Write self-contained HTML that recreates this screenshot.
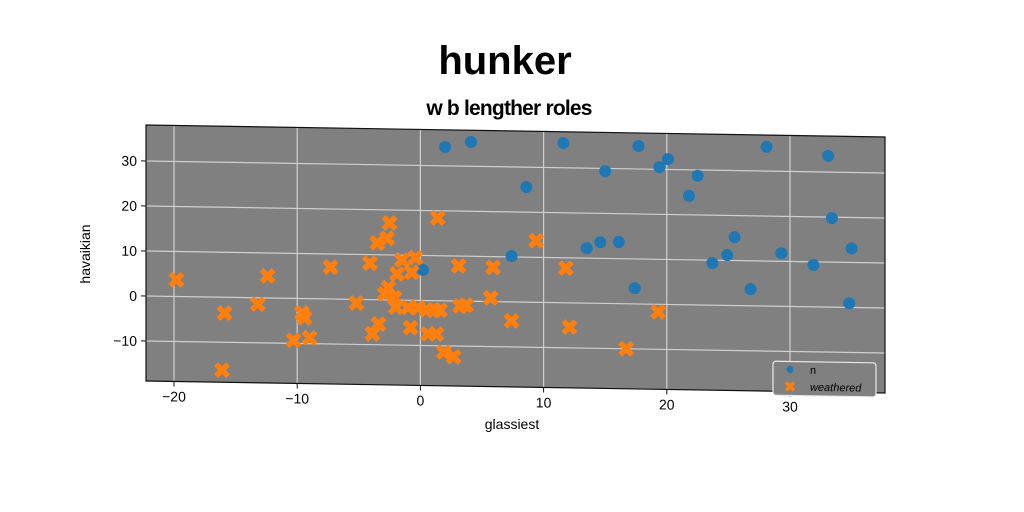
<!DOCTYPE html>
<html><head><meta charset="utf-8"><style>
html,body{margin:0;padding:0;background:#fff;}
svg{display:block;font-family:"Liberation Sans","DejaVu Sans",sans-serif;}
</style></head><body>
<svg id="chart" width="1024" height="512" viewBox="0 0 1024 512">
<rect x="0" y="0" width="1024" height="512" fill="#fff"/>
<text x="505" y="74" text-anchor="middle" font-size="40" font-weight="bold" fill="#000">hunker</text>
<text x="509" y="115" text-anchor="middle" font-size="21" font-weight="bold" fill="#000" letter-spacing="-0.8">w b lengther roles</text>
<g id="plot" transform="translate(146,0) skewY(0.93) translate(-146,0)">
<rect x="146" y="125" width="739" height="256" fill="#808080"/>
<g id="grid"></g><g id="marks"></g>
<rect x="146" y="125" width="739" height="256" fill="none" stroke="#111" stroke-width="1.2"/>
<g id="ticks"></g>
<g>
<rect x="773" y="351" width="103" height="34" rx="3" fill="#808080" stroke="#e8e8e8" stroke-width="1.2"/>
<circle cx="790" cy="359" r="3.5" fill="#1f77b4"/>
<text x="810" y="363" font-size="11" fill="#000">n</text>
<path d="M786,372 L794,380 M794,372 L786,380" stroke="#ff7f0e" stroke-width="3.5"/>
<text x="810" y="380" font-size="11" font-style="italic" fill="#000">weathered</text>
</g>
</g>
<text x="512" y="429" text-anchor="middle" font-size="14" fill="#000">glassiest</text>
<text x="0" y="0" transform="translate(90,254) rotate(-90)" text-anchor="middle" font-size="14" fill="#000">havaikian</text>
<script>
const xTicks=[-20,-10,0,10,20,30];
const yTicks=[-10,0,10,20,30];
const nX=[2.0,4.1,8.6,11.6,15.0,17.7,19.4,20.1,22.5,21.8,28.1,33.1,33.4,35.0,34.8,31.9,29.3,25.5,24.9,23.7,26.8,17.4,16.1,14.6,13.5,7.4,0.2];
const nY=[34.2,35.4,25.6,35.5,29.4,35.1,30.5,32.3,28.7,24.2,35.4,33.6,19.8,13.1,0.9,9.3,11.8,15.2,11.2,9.4,3.7,3.5,13.7,13.6,12.2,10.2,6.8];
const wX=[-19.8,-15.9,-16.1,-13.2,-12.4,-10.3,-9.6,-9.4,-9.0,-7.3,-5.2,-4.1,-3.9,-3.4,-3.5,-2.7,-2.5,-2.6,-2.1,-1.5,-1.9,-0.7,-0.4,-2.0,-0.8,1.4,3.1,1.1,0.5,1.6,0.6,1.3,1.9,2.7,3.2,3.7,5.9,5.7,7.4,9.4,11.8,12.1,16.7,19.3,-2.9,-0.2,-1.0];
const wY=[3.7,-3.5,-16.2,-1.4,4.9,-9.3,-3.2,-4.3,-8.7,7.1,-0.8,8.1,-7.6,-5.4,12.6,13.7,17.1,2.7,0.5,8.9,5.8,6.2,9.5,-1.6,-6.1,18.4,7.8,-2.1,-2.1,-2.1,-7.4,-7.4,-11.4,-12.4,-1.1,-0.9,7.6,0.8,-4.2,13.7,7.7,-5.4,-10.0,-1.7,1.3,-1.6,-1.6];
const NS='http://www.w3.org/2000/svg';
function sx(v){return 174+(v+20)*12.32;}
function sy(v){return 296-4.5*v;}
function mk(t,a,p){const e=document.createElementNS(NS,t);for(const k in a)e.setAttribute(k,a[k]);p.appendChild(e);return e;}
const grid=document.getElementById('grid'),marks=document.getElementById('marks'),ticks=document.getElementById('ticks');
xTicks.forEach(v=>{
 const g=mk('line',{x1:sx(v),x2:sx(v),y1:125,y2:381,stroke:'#cfcfcf','stroke-width':1.2},grid);
 
 
 const t=mk('line',{x1:sx(v),x2:sx(v),y1:381,y2:386,stroke:'#111','stroke-width':1},ticks);
 
 
 const l=mk('text',{x:sx(v),y:401,'text-anchor':'middle','font-size':14,fill:'#000'},ticks);
 l.textContent=v<0?'\u2212'+(-v):v;
 
 
});
yTicks.forEach(v=>{
 const g=mk('line',{x1:146,x2:885,y1:sy(v),y2:sy(v),stroke:'#cfcfcf','stroke-width':1.2},grid);
 
 
 const t=mk('line',{x1:141,x2:146,y1:sy(v),y2:sy(v),stroke:'#111','stroke-width':1},ticks);
 
 
 const l=mk('text',{x:137,y:sy(v)+5,'text-anchor':'end','font-size':14,fill:'#000'},ticks);
 l.textContent=v<0?'\u2212'+(-v):v;
 
 
});
nX.forEach((v,i)=>{
 const c=mk('circle',{cx:sx(v),cy:sy(nY[i]),r:6,fill:'#1f77b4'},marks);
 
 
});
wX.forEach((v,i)=>{
 const x=sx(v),y=sy(wY[i]);
 const p=mk('path',{d:`M${x-6},${y-6}L${x+6},${y+6}M${x+6},${y-6}L${x-6},${y+6}`,stroke:'#ff7f0e','stroke-width':5.5},marks);
 
 
});
</script>
</svg>
</body></html>
